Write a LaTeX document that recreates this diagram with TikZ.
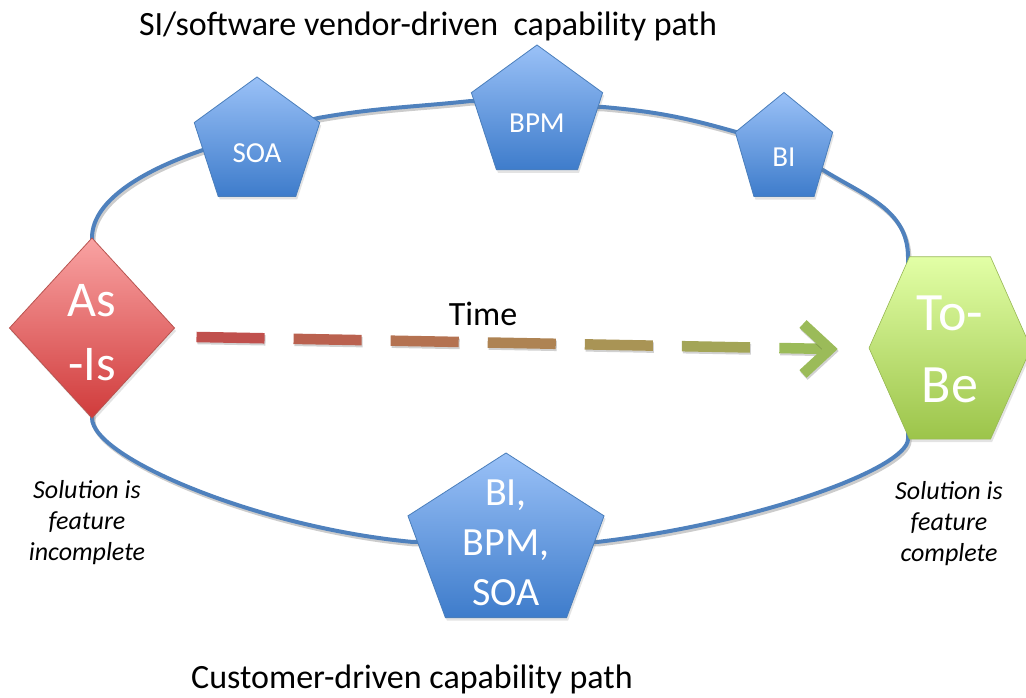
\documentclass[tikz,border=0pt]{standalone}
\usepackage{fontspec}
\setmainfont{Carlito}
\usetikzlibrary{shapes.geometric,calc,shadows}
\definecolor{pentTop}{HTML}{9AC1F7}
\definecolor{pentBot}{HTML}{3E7CCB}
\definecolor{pentLine}{HTML}{4A7EBB}
\definecolor{redTop}{HTML}{F9A3A3}
\definecolor{redBot}{HTML}{D03B3B}
\definecolor{redLine}{HTML}{B85450}
\definecolor{grnTop}{HTML}{E2FFA6}
\definecolor{grnBot}{HTML}{9CC44A}
\definecolor{grnLine}{HTML}{98B954}
\definecolor{loopBlue}{HTML}{4F81BD}
\definecolor{arRed}{HTML}{C0504D}
\definecolor{arGreen}{HTML}{9BBB59}
\pgfdeclarelayer{bg}
\pgfsetlayers{bg,main}
\begin{document}
\begin{tikzpicture}[x=1pt,y=1pt,
  shadowed/.style={drop shadow={shadow xshift=1.5pt,shadow yshift=-3pt,opacity=0.22}},
  pent/.style={regular polygon, regular polygon sides=5, inner sep=0pt, outer sep=0pt,
    draw=pentLine, line width=0.8pt, top color=pentTop, bottom color=pentBot, shadowed},
  lbl/.style={text=white, align=center, inner sep=0pt},
  loopline/.style={draw=loopBlue, line width=4pt, line join=round,
    preaction={draw=black, opacity=0.2, line width=4pt, transform canvas={xshift=1.5pt,yshift=-2.5pt}}},
  dashseg/.style={line width=10.5pt,
    preaction={draw=black, opacity=0.18, line width=10.5pt, transform canvas={xshift=1pt,yshift=-2pt}}},
  captionstyle/.style={font=\itshape\fontsize{26}{31}\selectfont, align=center, inner sep=0pt},
  titlestyle/.style={font=\fontsize{34}{40}\selectfont, inner sep=0pt}
]
\useasboundingbox (0,0) rectangle (1026,698);

% shapes
\node[diamond, aspect=0.917, minimum width=165pt, minimum height=180pt, inner sep=0pt, outer sep=0pt,
  draw=redLine, line width=0.8pt, top color=redTop, bottom color=redBot, shadowed] (asis) at (92,370) {};
\node[regular polygon, regular polygon sides=6, minimum size=162pt, inner sep=0pt, outer sep=0pt,
  yscale=1.3, transform shape, draw=grnLine, line width=0.6pt, top color=grnTop, bottom color=grnBot, shadowed] (tobe) at (950,350) {};
\node[pent, minimum size=132pt] (soa) at (257,555) {};
\node[pent, minimum size=138pt] (bpm) at (537,584) {};
\node[pent, minimum size=115pt, xscale=0.89, transform shape] (bi) at (784,548) {};
\node[pent, minimum size=182pt, xscale=1.133, transform shape] (cust) at (506,154) {};

% labels in shapes
\node[lbl, font=\fontsize{50}{64}\selectfont] (asisT) at ($(asis)+(0,-5)$) {As\\-Is};
\node[lbl, font=\fontsize{54}{72}\selectfont] (tobeT) at ($(tobe)+(0,-1)$) {To-\\Be};
\node[lbl, font=\fontsize{29}{35}\selectfont] (soaT) at ($(soa)+(0,-10)$) {SOA};
\node[lbl, font=\fontsize{29}{35}\selectfont] (bpmT) at ($(bpm)+(0,-9)$) {BPM};
\node[lbl, font=\fontsize{29}{35}\selectfont] (biT) at ($(bi)+(0,-7)$) {BI};
\node[lbl, font=\fontsize{40}{50}\selectfont] (custT) at ($(cust)+(0,1)$) {BI,\\BPM,\\SOA};

% loop behind the shapes
\begin{pgfonlayer}{bg}
\draw[loopline] (asis.north) .. controls +(0,40) and +(-53,-18) .. ($(soa)+(-54,-7)$)
  -- ($(soa)+(61,25)$) to[out=10,in=186] ($(bpm)+(-66,13)$)
  -- ($(bpm)+(66,7)$) to[out=-5,in=164] ($(bi)+(-48,18)$)
  -- ($(bi)+(39,-20)$) to[out=-32,in=90] ($(tobe)+(-42,91)$)
  -- ($(tobe)+(-42,-91)$) .. controls +(0,-29) and +(163,19) .. ($(cust)+(91,2)$)
  -- ($(cust)+(-93,2)$) .. controls +(-153,14) and +(0,-40) .. (asis.south)
  -- cycle;
\end{pgfonlayer}

% time arrow
\coordinate (ts) at ($(asis.east)+(22,-9)$);
\coordinate (te) at ($(tobe)+(-120,-1)$);
\foreach \i in {0,...,5}{
  \pgfmathsetmacro\a{\i*97/633}
  \pgfmathsetmacro\b{(\i*97+68)/633}
  \pgfmathsetmacro\p{100-\i*100/6.3}
  \draw[dashseg, draw=arRed!\p!arGreen] ($(ts)!\a!(te)$) -- ($(ts)!\b!(te)$);
}
\draw[dashseg, draw=arGreen] ($(ts)!0.92!(te)$) -- (te);
\draw[dashseg, draw=arGreen, line join=miter] ($(te)+(-27,25)$) -- (te) -- ($(te)+(-27,-25)$);
\node[titlestyle] (time) at (483,384) {Time};

% titles and captions
\node[titlestyle] (toptitle) at (428,672) {SI/software vendor-driven\ \ capability path};
\node[titlestyle] (bottitle) at (412,19) {Customer-driven capability path};
\node[captionstyle] (capL) at (87,175) {Solution is\\feature\\incomplete};
\node[captionstyle] (capR) at (949,174) {Solution is\\feature\\complete};
\end{tikzpicture}
\end{document}
